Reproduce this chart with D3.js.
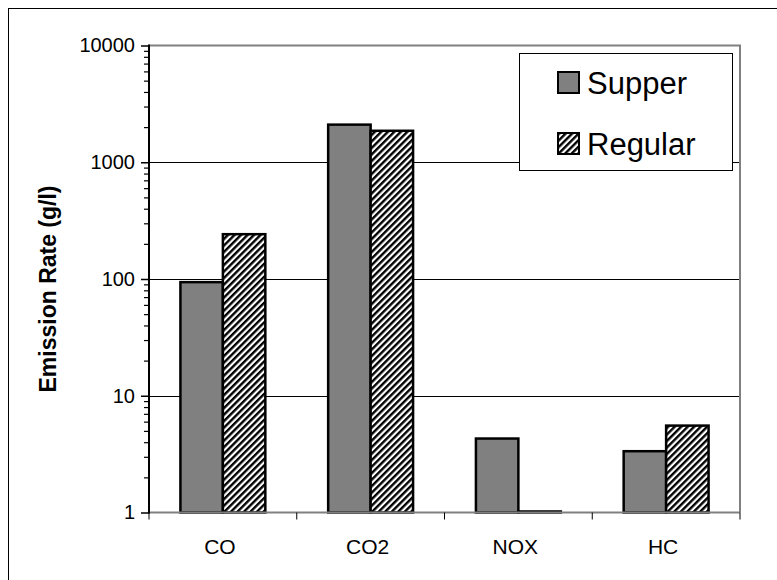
<!DOCTYPE html>
<html>
<head>
<meta charset="utf-8">
<script src="https://cdn.jsdelivr.net/npm/d3@7"></script>
<style>
  body { margin: 0; background: #fff; }
  text { font-family: "Liberation Sans", Arial, sans-serif; }
</style>
</head>
<body>
<svg id="canvas" width="777" height="580"></svg>
<script>
// chart data
const pollutants = ['CO', 'CO2', 'NOX', 'HC']
const seriesNames = ['Supper', 'Regular']
const supperValues = [94, 2100, 4.3, 3.35]
const regularValues = [242, 1860, 1.02, 5.55]
const majorTicks = [1, 10, 100, 1000, 10000]

let canvas = d3.select('#canvas')

// hatch for the "Regular" series
let defs = canvas.append('defs')
defs.append('pattern')
    .attr('id', 'hatch')
    .attr('patternUnits', 'userSpaceOnUse')
    .attr('width', 4.6)
    .attr('height', 4.6)
    .attr('patternTransform', 'rotate(45)')
    .call(p => {
        p.append('rect').attr('width', 4.6).attr('height', 4.6).attr('fill', '#fff')
        p.append('rect').attr('width', 2.4).attr('height', 4.6).attr('fill', '#000')
    })

// outer frame
canvas.append('rect')
    .attr('x', 8.5).attr('y', 8.5)
    .attr('width', 820).attr('height', 620)
    .attr('fill', 'none')
    .attr('stroke', '#000')
    .attr('stroke-width', 1)

let plotLeft = 149, plotRight = 740, plotTop = 45.5, plotBottom = 512.5

let x = d3.scaleBand()
    .domain(pollutants)
    .range([plotLeft, plotRight])
    .paddingInner(0)
    .paddingOuter(0)

let xs = d3.scaleBand()
    .domain(seriesNames)
    .range([0, x.bandwidth()])
    .paddingInner(0)
    .paddingOuter(0.74)

let y = d3.scaleLog()
    .domain([1, 10000])
    .range([plotBottom, plotTop])

// gridlines
canvas.append('g')
    .selectAll('line')
    .data([10, 100, 1000])
    .enter()
    .append('line')
    .attr('x1', plotLeft).attr('x2', plotRight)
    .attr('y1', d => Math.round(y(d)) + 0.5)
    .attr('y2', d => Math.round(y(d)) + 0.5)
    .attr('stroke', '#000')
    .attr('stroke-width', 1)

// plot border (top and right, gray)
canvas.append('path')
    .attr('d', `M${plotLeft},${plotTop} H${plotRight} V${plotBottom}`)
    .attr('fill', 'none')
    .attr('stroke', '#808080')
    .attr('stroke-width', 2)

// bars
let rows = pollutants.map((p, i) => ({ name: p, Supper: supperValues[i], Regular: regularValues[i] }))

let groups = canvas.append('g')
    .selectAll('g')
    .data(rows)
    .enter()
    .append('g')
    .attr('transform', d => 'translate(' + x(d.name) + ',0)')

groups.selectAll('rect')
    .data(d => seriesNames.map(s => ({ key: s, value: d[s] })))
    .enter()
    .append('rect')
    .attr('x', d => xs(d.key))
    .attr('y', d => y(d.value))
    .attr('width', xs.bandwidth())
    .attr('height', d => plotBottom - y(d.value))
    .attr('fill', d => d.key === 'Supper' ? '#808080' : 'url(#hatch)')
    .attr('stroke', '#000')
    .attr('stroke-width', 2.5)

// x axis
let xAxis = canvas.append('g')
    .attr('transform', 'translate(0,' + plotBottom + ')')
xAxis.append('line')
    .attr('x1', plotLeft).attr('x2', plotRight)
    .attr('stroke', '#808080').attr('stroke-width', 2)
xAxis.selectAll('.xtick')
    .data(pollutants.map(p => x(p)).concat([plotRight]))
    .enter()
    .append('line')
    .attr('x1', d => d).attr('x2', d => d)
    .attr('y1', 0).attr('y2', 7)
    .attr('stroke', '#000').attr('stroke-width', 1)
xAxis.selectAll('.xlabel')
    .data(pollutants)
    .enter()
    .append('text')
    .attr('x', d => x(d) + x.bandwidth() / 2 - 3)
    .attr('y', 41)
    .attr('text-anchor', 'middle')
    .attr('font-size', '21px')
    .text(d => d)

// y axis with log minor ticks
let minorTicks = []
for (let e = 0; e < 4; e++) {
    for (let m = 2; m <= 9; m++) minorTicks.push(m * Math.pow(10, e))
}

canvas.append('g')
    .attr('transform', 'translate(' + plotLeft + ',0)')
    .call(d3.axisLeft(y).tickValues(minorTicks).tickSize(5).tickFormat(''))
    .call(g => g.select('.domain').remove())
    .call(g => g.selectAll('line').attr('stroke', '#000').attr('stroke-width', 1.2))

canvas.append('g')
    .attr('transform', 'translate(' + plotLeft + ',0)')
    .call(d3.axisLeft(y).tickValues(majorTicks).tickSize(8).tickPadding(6).tickFormat(d3.format('d')))
    .call(g => g.select('.domain').attr('stroke', '#000').attr('stroke-width', 2).attr('d', `M0,${plotTop - 1}V${plotBottom + 1}`))
    .call(g => g.selectAll('line').attr('stroke', '#000').attr('stroke-width', 1.5))
    .call(g => g.selectAll('text')
        .attr('font-size', '20px')
        .attr('font-family', '"Liberation Sans", Arial, sans-serif')
        .attr('fill', '#000'))

// y axis title
canvas.append('text')
    .attr('transform', 'translate(56,' + ((plotTop + plotBottom) / 2 + 10) + ') rotate(-90)')
    .attr('text-anchor', 'middle')
    .attr('font-size', '23px')
    .attr('font-weight', 'bold')
    .text('Emission Rate (g/l)')

// legend
let legend = canvas.append('g')
legend.append('rect')
    .attr('x', 519.5).attr('y', 53.5)
    .attr('width', 213).attr('height', 117)
    .attr('fill', '#fff')
    .attr('stroke', '#000')
    .attr('stroke-width', 1)

let items = legend.selectAll('.item')
    .data(seriesNames)
    .enter()
    .append('g')
    .attr('transform', (d, i) => 'translate(558,' + (72 + i * 61) + ')')

items.append('rect')
    .attr('width', 21).attr('height', 21)
    .attr('fill', d => d === 'Supper' ? '#808080' : 'url(#hatch)')
    .attr('stroke', '#000')
    .attr('stroke-width', 2)

items.append('text')
    .attr('x', 29)
    .attr('y', 22)
    .attr('font-size', '31px')
    .text(d => d)
</script>
</body>
</html>
